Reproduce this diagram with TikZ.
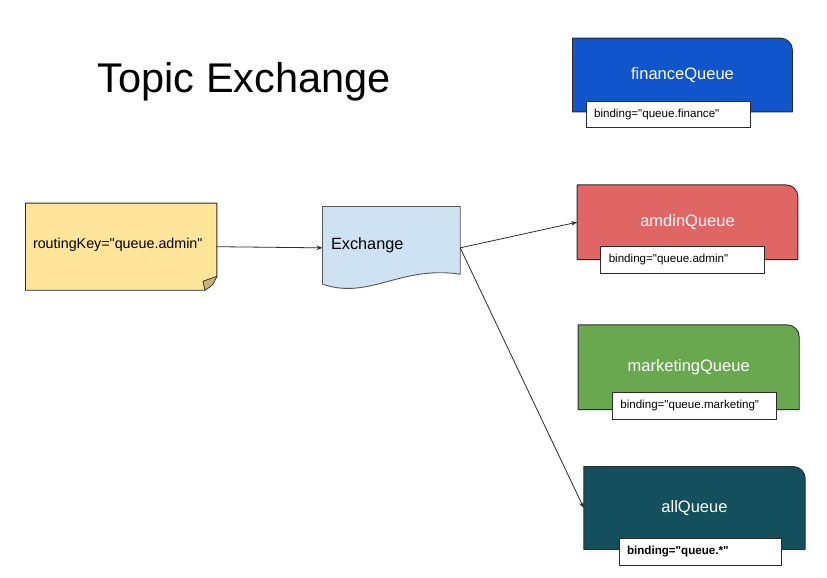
\documentclass[tikz,border=0pt]{standalone}
\usepackage{fontspec}
\setmainfont{Liberation Sans}[Ligatures=TeXOff]
\usetikzlibrary{backgrounds,calc,arrows.meta}
\definecolor{finblue}{HTML}{1155CC}
\definecolor{admred}{HTML}{E06666}
\definecolor{mktgreen}{HTML}{6AA84F}
\definecolor{allteal}{HTML}{134F5C}
\definecolor{noteyellow}{HTML}{FFE599}
\definecolor{foldtan}{HTML}{C9B27A}
\definecolor{exblue}{HTML}{CFE2F3}
\definecolor{edgegray}{HTML}{2B2B2B}
\definecolor{exedge}{HTML}{555555}
\newcommand\queueshape[2]{%
  \draw[qborder, fill=#2] (#1.south west) -- (#1.north west) -- ([xshift=-12pt]#1.north east)
    .. controls ([xshift=-5.4pt]#1.north east) and ([yshift=-5.4pt]#1.north east) .. ([yshift=-12pt]#1.north east)
    -- (#1.south east) -- cycle;}
\tikzset{
  qborder/.style={draw=edgegray, line width=0.9pt, line join=round},
  qnode/.style={inner sep=0pt, text=white, font=\fontsize{16.5}{20}\selectfont},
  bindbox/.style={draw=edgegray, fill=white, line width=0.9pt, inner xsep=8pt, inner ysep=0pt,
    align=left, font=\fontsize{11.6}{14}\selectfont},
  conn/.style={draw=edgegray, line width=0.8pt, -{Stealth[length=6pt,width=4.5pt]}}
}
\begin{document}
\begin{tikzpicture}[x=1pt,y=-1pt]
\useasboundingbox (0,0) rectangle (827,578);

% title
\node[anchor=base west, inner sep=0pt, font=\fontsize{41.5}{50}\selectfont] (title) at (97.5,92.7) {Topic Exchange};

% note
\node[inner xsep=7.3pt, inner ysep=0pt, text width=176.4pt, align=left, minimum height=86.7pt,
      font=\fontsize{14.3}{17}\selectfont] (note) at (121.2,246.7) {\raisebox{7pt}{routingKey="queue.admin"}};

% exchange
\node[inner xsep=8.3pt, inner ysep=0pt, text width=120.7pt, align=left, minimum height=82.3pt,
      font=\fontsize{16.3}{20}\selectfont] (ex) at (391.35,247.85) {\raisebox{8pt}{Exchange}};

% queues
\node[qnode, minimum width=219.6pt, minimum height=73.4pt] (fin) at (682.5,75) {financeQueue};
\node[qnode, minimum width=220.4pt, minimum height=74.3pt] (amd) at (687.5,222.2) {amdinQueue};
\node[qnode, minimum width=220.7pt, minimum height=84.3pt] (mkt) at (688.7,367.2) {marketingQueue};
\node[qnode, minimum width=221pt, minimum height=82.6pt] (allq) at (694.5,508) {allQueue};

% bindings
\node[bindbox, text width=148.7pt, minimum height=26.3pt] (finb) at (668.4,114.2) {binding="queue.finance"};
\node[bindbox, text width=147.3pt, minimum height=27.3pt] (amdb) at (682.4,259.7) {binding="queue.admin"};
\node[bindbox, text width=148.4pt, minimum height=26.3pt] (mktb) at (694.5,405.9) {binding="queue.marketing"};
\node[bindbox, text width=146.7pt, minimum height=26.7pt, font=\fontsize{11.6}{14}\selectfont\bfseries] (allb) at (700.4,551.7) {binding="queue.*"};

\begin{pgfonlayer}{background}
  \fill[white] (0,0) rectangle (827,578);
  % note shape
  \draw[draw=edgegray, line width=0.9pt, line join=round, fill=noteyellow]
    (note.north west) -- (note.north east) -- ([yshift=14pt]note.south east)
    -- ([xshift=-12pt]note.south east) -- (note.south west) -- cycle;
  \draw[draw=edgegray, line width=0.7pt, line join=round, fill=foldtan]
    ([yshift=14pt]note.south east) .. controls ([xshift=-7pt,yshift=12pt]note.south east) .. ([xshift=-14pt,yshift=9pt]note.south east)
    -- ([xshift=-12pt]note.south east) .. controls ([xshift=-4pt,yshift=5pt]note.south east) .. ([yshift=14pt]note.south east);
  % exchange shape
  \draw[draw=exedge, line width=0.9pt, line join=round, fill=exblue]
    (ex.north west) -- (ex.north east) -- ([yshift=15pt]ex.south east)
    .. controls ([xshift=77.3pt,yshift=24pt]ex.south west) and ([xshift=47.3pt,yshift=-11pt]ex.south west)
    .. ([yshift=5pt]ex.south west) -- cycle;
  % queue shapes
  \queueshape{fin}{finblue}
  \queueshape{amd}{admred}
  \queueshape{mkt}{mktgreen}
  \queueshape{allq}{allteal}
\end{pgfonlayer}

% connectors
\draw[conn] (note.east) -- (ex.west);
\draw[conn] (ex.east) -- (amd.west);
\draw[conn] (ex.east) -- (allq.west);
\end{tikzpicture}
\end{document}
